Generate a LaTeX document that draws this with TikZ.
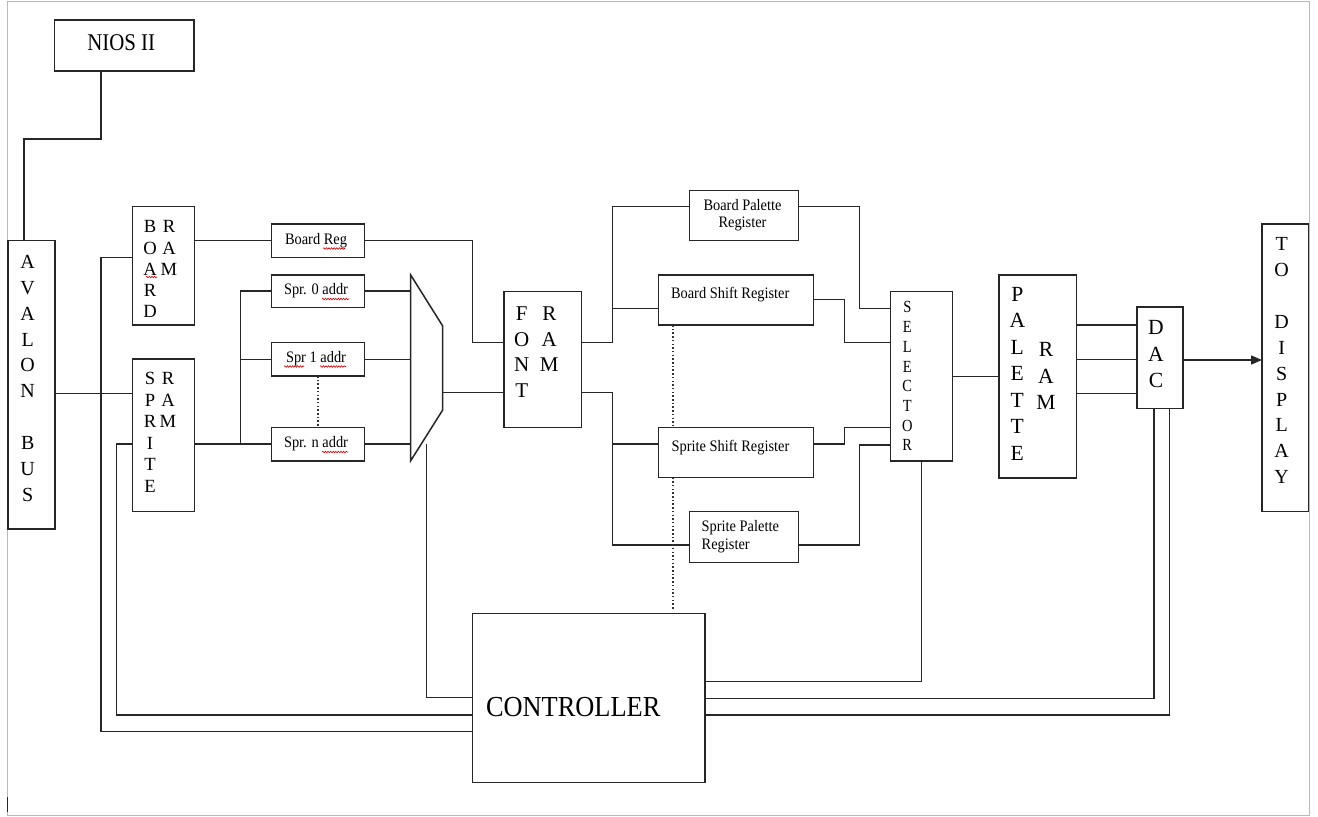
\documentclass[tikz,border=0pt]{standalone}
\usepackage{fontspec}
\setmainfont{Liberation Serif}
\usepackage{graphicx}
\usetikzlibrary{arrows.meta,decorations.pathmorphing,calc}
\newcommand\fs[1]{\fontsize{#1}{#1}\selectfont}
\newcommand\sqz[2][0.9]{\scalebox{#1}[1]{#2}}
\begin{document}
\begin{tikzpicture}[x=1pt,y=-1pt,
  box/.style={draw=black!85, line width=1.5pt, inner sep=0pt, outer sep=0pt},
  wire/.style={draw=black!85, line width=1.5pt},
  dots/.style={draw=black!80, line width=1.8pt, dash pattern=on 1.5pt off 2.2pt},
  txt/.style={inner sep=0pt, outer sep=0pt, text=black},
  squig/.style={draw=red!80!black, line width=0.6pt, decorate, decoration={snake, amplitude=0.8pt, segment length=2.6pt}}]

\useasboundingbox (0,0) rectangle (1318,817);
\fill[white] (0,0) rectangle (1318,817);
\draw[gray!55, line width=1.2pt] (7.3,1.7) rectangle (1309.5,815.5);
\draw[black!85, line width=1.5pt] (7.3,797) -- (7.3,812);

% ---------- boxes ----------
\node[box, minimum width=139.5pt, minimum height=51pt]   (nios)   at (124.25,45.5) {};
\node[box, minimum width=47pt,    minimum height=288.5pt] (avalon) at (31.5,384.75) {};
\node[box, minimum width=61.8pt,  minimum height=118.3pt] (bram)   at (163.4,265.85) {};
\node[box, minimum width=61.8pt,  minimum height=152.4pt] (sram)   at (163.4,435.35) {};
\node[box, minimum width=92.6pt,  minimum height=33.3pt]  (breg)   at (318,240.65) {};
\node[box, minimum width=92.6pt,  minimum height=32.3pt]  (s0)     at (318,291.15) {};
\node[box, minimum width=92.6pt,  minimum height=33.3pt]  (s1)     at (318,359.35) {};
\node[box, minimum width=92.6pt,  minimum height=33.7pt]  (sn)     at (318,444.15) {};
\node[box, minimum width=77.3pt,  minimum height=135.6pt] (font)   at (542.65,359.5) {};
\node[box, minimum width=109pt,   minimum height=50pt]    (bpal)   at (743.8,215.7) {};
\node[box, minimum width=155pt,   minimum height=50pt]    (bsh)    at (735.8,300) {};
\node[box, minimum width=155pt,   minimum height=50.2pt]  (ssh)    at (735.8,452.4) {};
\node[box, minimum width=109pt,   minimum height=50.8pt]  (spal)   at (743.8,537.1) {};
\node[box, minimum width=62pt,    minimum height=169.3pt] (sel)    at (921.7,376.35) {};
\node[box, minimum width=77.7pt,  minimum height=203pt]   (pram)   at (1037.85,376.5) {};
\node[box, minimum width=46pt,    minimum height=101.7pt] (dac)    at (1160,357.85) {};
\node[box, minimum width=46.5pt,  minimum height=287.7pt] (disp)   at (1285.25,367.85) {};
\node[box, minimum width=232.3pt, minimum height=169.2pt] (ctrl)   at (588.85,697.9) {};

% multiplexer
\coordinate (mtl) at (410.7,275);
\coordinate (mtr) at (442.7,326);
\coordinate (mbr) at (442.7,410);
\coordinate (mbl) at (410.7,460.7);
\coordinate (mout) at (442.7,392.7);
\coordinate (mctl) at (426.7,444);
\draw[wire, line join=miter] (mtl) -- (mtr) -- (mbr) -- (mbl) -- cycle;

% ---------- texts ----------
\node[txt, anchor=base west, font=\fs{24}] (niost) at (87.3,50) {\sqz[0.87]{NIOS II}};
\node[txt, anchor=base west, font=\fs{29}] (ctrlt) at (486,716) {\sqz[0.91]{CONTROLLER}};
\node[txt, font=\fs{16}] (bregt) at (316,240.5) {\sqz{Board Reg}};
\node[txt, font=\fs{16}] (s0t) at (316,291) {\sqz{Spr. 0 addr}};
\node[txt, font=\fs{16}] (s1t) at (316,359) {\sqz{Spr 1 addr}};
\node[txt, font=\fs{16}] (snt) at (316,444) {\sqz{Spr. n addr}};
\node[txt, anchor=base west, font=\fs{16}] (bsht) at (671,298.3) {\sqz{Board Shift Register}};
\node[txt, anchor=base west, font=\fs{16}] (ssht) at (671.7,451.3) {\sqz{Sprite Shift Register}};
\node[txt, align=center, font=\fontsize{16}{17.6}\selectfont] (bpalt) at (742.5,215) {\sqz{Board Palette}\\\sqz{Register}};
\node[txt, align=left, anchor=west, font=\fontsize{16}{17.6}\selectfont] (spalt) at (701.7,536.5) {\sqz{Sprite Palette}\\\sqz{Register}};

% vertical letter columns
\foreach \l [count=\i from 0] in {A,V,A,L,O,N,{},B,U,S}
  \node[txt, anchor=base, font=\fs{20}] (av\i) at (27.7,{261.7+\i*25.9+6.6}) {\l};
\foreach \l [count=\i from 0] in {T,O,{},D,I,S,P,L,A,Y}
  \node[txt, anchor=base, font=\fs{20}] (td\i) at (1281.7,{244+\i*25.9+6.6}) {\l};
\foreach \l [count=\i from 0] in {B,O,A,R,D}
  \node[txt, anchor=base, font=\fs{18.6}] (bo\i) at (150,{226.7+\i*21.25+6.2}) {\l};
\foreach \l [count=\i from 0] in {R,A,M}
  \node[txt, anchor=base, font=\fs{18.6}] (br\i) at (169,{226.7+\i*21.25+6.2}) {\l};
\foreach \l [count=\i from 0] in {S,P,R,I,T,E}
  \node[txt, anchor=base, font=\fs{18.6}] (sp\i) at (150,{378.3+\i*21.5+6.2}) {\l};
\foreach \l [count=\i from 0] in {R,A,M}
  \node[txt, anchor=base, font=\fs{18.6}] (sr\i) at (168,{378.3+\i*21.5+6.2}) {\l};
\foreach \l [count=\i from 0] in {F,O,N,T}
  \node[txt, anchor=base, font=\fs{21}] (fo\i) at (521.7,{313.3+\i*25.8+7}) {\l};
\foreach \l [count=\i from 0] in {R,A,M}
  \node[txt, anchor=base, font=\fs{21}] (fr\i) at (549.3,{313.3+\i*25.8+7}) {\l};
\foreach \l [count=\i from 0] in {S,E,L,E,C,T,O,R}
  \node[txt, anchor=base, font=\fs{17}] (se\i) at (907.3,{307.3+\i*19.7+5.6}) {\sqz[0.85]{\l}};
\foreach \l [count=\i from 0] in {P,A,L,E,T,T,E}
  \node[txt, anchor=base, font=\fs{21.6}] (pa\i) at (1017.3,{294+\i*26.55+7.2}) {\l};
\foreach \l [count=\i from 0] in {R,A,M}
  \node[txt, anchor=base, font=\fs{21.6}] (pr\i) at (1046,{349.3+\i*26.55+7.2}) {\l};
\foreach \l [count=\i from 0] in {D,A,C}
  \node[txt, anchor=base, font=\fs{21.6}] (da\i) at (1156,{327.7+\i*26.2+7.2}) {\l};

% spell-check squiggles
\draw[squig] (146,277) -- (157,277);
\draw[squig] (323,248.5) -- (345,248.5);
\draw[squig] (322,299) -- (349,299);
\draw[squig] (284,366.5) -- (304,366.5);
\draw[squig] (320,366.5) -- (346,366.5);
\draw[squig] (322,452) -- (348,452);

% ---------- connectors ----------
% NIOS to Avalon
\draw[wire] ([xshift=-23.25pt]nios.south) -- ++(0,68) -| ([xshift=-7.5pt]avalon.north);
% Avalon to sprite RAM
\draw[wire] (avalon.east |- 0,393.3) -- (sram.west |- 0,393.3);
% bus lines to controller
\draw[wire] (bram.west |- 0,257.7) -| (101,731.7) -- (ctrl.west |- 0,731.7);
\draw[wire] (sram.west |- 0,444) -| (116.7,715) -- (ctrl.west |- 0,715);
\draw[wire] (mctl) |- (ctrl.west |- 0,697.7);
% board path
\draw[wire] (breg.west -| bram.east) -- (breg.west);
\draw[wire] (breg.east) -| (472.7,342.7) -- (font.west |- 0,342.7);
% sprite address path
\draw[wire] (sram.east |- sn.west) -- (sn.west);
\draw[wire] (240.7,444) |- (s0.west);
\draw[wire] (240.7,359.35) -- (s1.west);
\draw[wire] (s0.east) -- (s0.east -| mtl);
\draw[wire] (s1.east) -- (s1.east -| mtl);
\draw[wire] (sn.east) -- (sn.east -| mtl);
\draw[dots] (s1.south) -- (sn.north);
\draw[wire] (mout) -- (font.west |- mout);
% font RAM outputs
\draw[wire] (font.east |- 0,342.7) -- (612.3,342.7) |- (bpal.west |- 0,206.7);
\draw[wire] (612.3,308.3) -- (bsh.west |- 0,308.3);
\draw[wire] (font.east |- 0,392.7) -- (612.3,392.7) |- (spal.west |- 0,545);
\draw[wire] (612.3,444) -- (ssh.west |- 0,444);
% registers to selector
\draw[wire] (bpal.east |- 0,206.7) -| (859.3,308.3) -- (sel.west |- 0,308.3);
\draw[wire] (bsh.east |- 0,299.3) -| (844.3,342.3) -- (sel.west |- 0,342.3);
\draw[wire] (ssh.east |- 0,444) -| (844.3,427.3) -- (sel.west |- 0,427.3);
\draw[wire] (spal.east |- 0,545) -| (859.3,445) -- (sel.west |- 0,445);
\draw[dots] ([xshift=-62.5pt]bsh.south) -- ([xshift=-62.5pt]ssh.north);
\draw[dots] ([xshift=-62.5pt]ssh.south) -- ([xshift=-62.5pt]ssh.south |- 0,609);
% selector, palette, DAC, display
\draw[wire] (sel.east |- 0,376.7) -- (pram.west |- 0,376.7);
\draw[wire] (pram.east |- 0,325) -- (dac.west |- 0,325);
\draw[wire] (pram.east |- 0,359.3) -- (dac.west |- 0,359.3);
\draw[wire] (pram.east |- 0,393.3) -- (dac.west |- 0,393.3);
\draw[wire, -{Triangle[length=11pt,width=9pt]}] (dac.east |- 0,360) -- (disp.west |- 0,360);
% back to controller
\draw[wire] (sel.south) |- (ctrl.east |- 0,681.3);
\draw[wire] ([xshift=-6pt]dac.south) |- (ctrl.east |- 0,698.3);
\draw[wire] ([xshift=9.3pt]dac.south) |- (ctrl.east |- 0,715);
\end{tikzpicture}
\end{document}
